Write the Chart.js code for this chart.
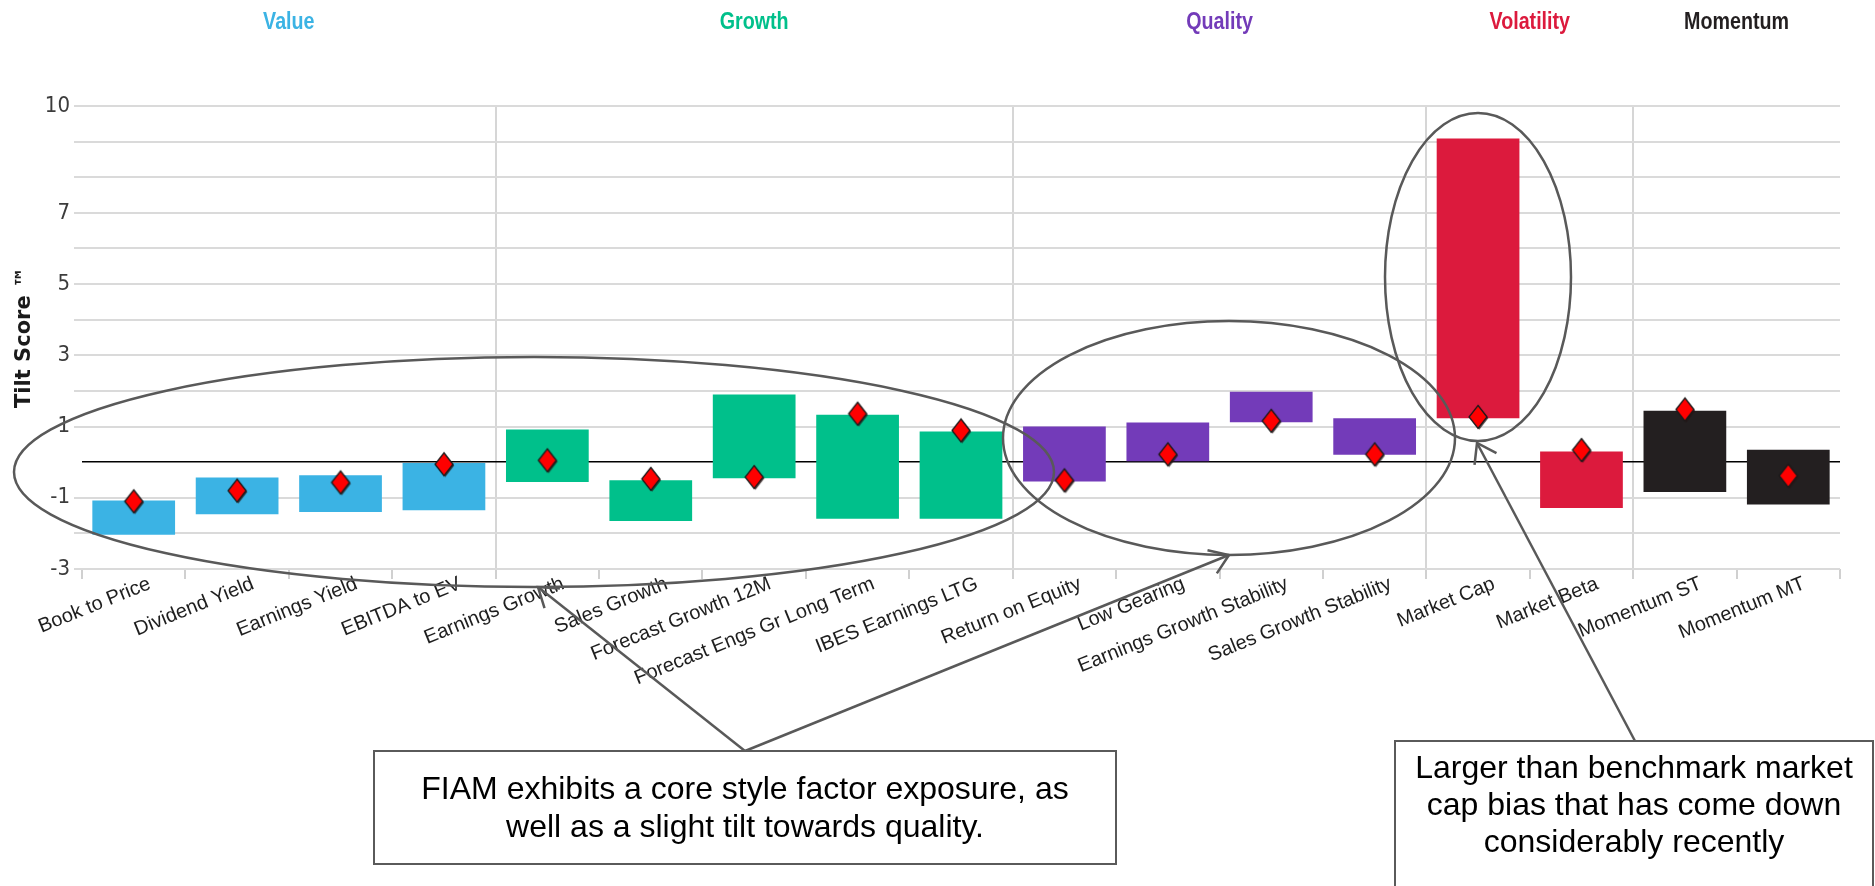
<!DOCTYPE html>
<html>
<head>
<meta charset="utf-8">
<title>Style tilt scores</title>
<script src="https://cdn.jsdelivr.net/npm/chart.js@4.4.1/dist/chart.umd.min.js"></script>
<style>
  html, body { margin: 0; padding: 0; background: #ffffff; }
  #wrap { width: 1875px; height: 886px; position: relative; }
  canvas { display: block; }
</style>
</head>
<body>
<div id="wrap"><canvas id="chart" width="1875" height="886"></canvas></div>
<script>
// ---- data ----
const factors = [
  'Book to Price', 'Dividend Yield', 'Earnings Yield', 'EBITDA to EV',
  'Earnings Growth', 'Sales Growth', 'Forecast Growth 12M', 'Forecast Engs Gr Long Term', 'IBES Earnings LTG',
  'Return on Equity', 'Low Gearing', 'Earnings Growth Stability', 'Sales Growth Stability',
  'Market Cap', 'Market Beta',
  'Momentum ST', 'Momentum MT'
];
const groupNames  = ['Value', 'Growth', 'Quality', 'Volatility', 'Momentum'];
const groupSizes  = [4, 5, 4, 2, 2];
const groupColors = ['#3bb3e4', '#00c08b', '#733bb9', '#dc1a3d', '#231f20'];

// historical range of each tilt score (low / high) and the current score
const rangeLow  = [-2.04, -1.46, -1.40, -1.35, -0.56, -1.65, -0.45, -1.59, -1.59, -0.54, 0.00, 1.12, 0.21, 1.23, -1.29, -0.84, -1.19];
const rangeHigh = [-1.08, -0.43, -0.37,  0.00,  0.92, -0.51,  1.90,  1.33,  0.86,  1.00, 1.11, 1.98, 1.23, 9.09,  0.30,  1.44,  0.35];
const tiltScore = [-1.10, -0.80, -0.57, -0.06,  0.05, -0.47, -0.42,  1.36,  0.89, -0.51, 0.22, 1.16, 0.22, 1.27,  0.34,  1.48, -0.38];

const yTickLabels = [10, 7, 5, 3, 1, -1, -3];

const noteLeft  = ['FIAM exhibits a core style factor exposure, as', 'well as a slight tilt towards quality.'];
const noteRight = ['Larger than benchmark market', 'cap bias that has come down', 'considerably recently'];

// ---- helpers ----
function hasFont(name) {
  const g = document.createElement('canvas').getContext('2d');
  const t = 'abcdefghijklmnopqrstuvwxyz MWQ 0123456789';
  g.font = '40px monospace';
  const w0 = g.measureText(t).width;
  g.font = '40px "' + name + '", monospace';
  return g.measureText(t).width !== w0;
}
const NARROW = hasFont('Liberation Sans Narrow');

// group of each factor, and index boundaries between groups
const groupOf = [];
groupSizes.forEach((n, gi) => { for (let k = 0; k < n; k++) groupOf.push(gi); });
const boundaries = [];
groupSizes.reduce((acc, n) => { acc += n; boundaries.push(acc); return acc; }, 0);
boundaries.pop();

// diamond marker for the current score
function makeDiamond() {
  const w = 24, h = 28, hw = 9, hh = 11.5;
  const c = document.createElement('canvas');
  c.width = w; c.height = h;
  const g = c.getContext('2d');
  const cx = w / 2, cy = h / 2;
  const path = (dx, dy) => {
    g.beginPath();
    g.moveTo(cx + dx, cy - hh + dy);
    g.lineTo(cx + hw + dx, cy + dy);
    g.lineTo(cx + dx, cy + hh + dy);
    g.lineTo(cx - hw + dx, cy + dy);
    g.closePath();
  };
  path(1.3, 1.3);
  g.fillStyle = 'rgba(40,20,20,0.75)';
  g.fill();
  path(0, 0);
  g.fillStyle = '#ff0000';
  g.fill();
  g.lineWidth = 1.3;
  g.strokeStyle = '#1a1a1a';
  g.stroke();
  return c;
}
const diamond = makeDiamond();

function drawNarrowText(ctx, text, x, y, size, weight, color) {
  ctx.save();
  ctx.fillStyle = color;
  ctx.textAlign = 'center';
  ctx.textBaseline = 'middle';
  if (NARROW) {
    ctx.font = weight + ' ' + size + 'px "Liberation Sans Narrow"';
    ctx.fillText(text, x, y);
  } else {
    ctx.font = weight + ' ' + size + 'px "Liberation Sans", Arial, sans-serif';
    ctx.translate(x, y);
    ctx.scale(0.82, 1);
    ctx.fillText(text, 0, 0);
  }
  ctx.restore();
}

function arrow(ctx, x0, y0, x1, y1) {
  ctx.beginPath();
  ctx.moveTo(x0, y0);
  ctx.lineTo(x1, y1);
  ctx.stroke();
  const a = Math.atan2(y0 - y1, x0 - x1), L = 22, h = 0.6;
  ctx.beginPath();
  ctx.moveTo(x1 + L * Math.cos(a + h), y1 + L * Math.sin(a + h));
  ctx.lineTo(x1, y1);
  ctx.lineTo(x1 + L * Math.cos(a - h), y1 + L * Math.sin(a - h));
  ctx.stroke();
}

function noteBox(ctx, x, y, w, h, lines, cx, firstBaseline, lineGap) {
  ctx.save();
  ctx.fillStyle = '#ffffff';
  ctx.fillRect(x, y, w, h);
  ctx.lineWidth = 2;
  ctx.strokeStyle = '#5a5a5a';
  ctx.strokeRect(x, y, w, h);
  ctx.fillStyle = '#000000';
  ctx.font = '32px "Liberation Sans", Arial, sans-serif';
  ctx.textAlign = 'center';
  ctx.textBaseline = 'alphabetic';
  lines.forEach((t, i) => ctx.fillText(t, cx, firstBaseline + i * lineGap));
  ctx.restore();
}

// group headings above the plot and the call-out annotations
const decorations = {
  id: 'decorations',
  afterDraw(chart) {
    const ctx = chart.ctx;
    const xs = chart.scales.x;
    let start = 0;
    groupNames.forEach((name, gi) => {
      const end = start + groupSizes[gi] - 1;
      const cx = (xs.getPixelForValue(start) + xs.getPixelForValue(end)) / 2;
      drawNarrowText(ctx, name, cx, 22, 24, 'bold', groupColors[gi]);
      start = end + 1;
    });

    ctx.save();
    ctx.strokeStyle = '#595959';
    ctx.lineWidth = 2.5;
    // circled groups
    [[534, 472, 520, 115], [1229, 438, 226, 117], [1478, 277, 93, 164]].forEach(([ex, ey, rx, ry]) => {
      ctx.beginPath();
      ctx.ellipse(ex, ey, rx, ry, 0, 0, Math.PI * 2);
      ctx.stroke();
    });
    // pointers
    arrow(ctx, 745, 751, 538, 587);
    arrow(ctx, 745, 751, 1229, 555);
    arrow(ctx, 1635, 741, 1477, 443);
    ctx.restore();

    noteBox(ctx, 374, 751, 742, 113, noteLeft, 745, 799, 38);
    noteBox(ctx, 1395, 741, 478, 160, noteRight, 1634, 778, 37);
  }
};

new Chart(document.getElementById('chart'), {
  type: 'bar',
  data: {
    labels: factors,
    datasets: [
      {
        type: 'line',
        label: 'Current tilt score',
        data: tiltScore,
        showLine: false,
        pointStyle: diamond,
        pointRadius: 11,
        pointHoverRadius: 11,
        order: 0
      },
      {
        type: 'bar',
        label: 'Range',
        data: rangeLow.map((lo, i) => [lo, rangeHigh[i]]),
        backgroundColor: groupOf.map(g => groupColors[g]),
        borderWidth: 0,
        barPercentage: 0.8,
        categoryPercentage: 1.0,
        order: 1
      }
    ]
  },
  options: {
    responsive: false,
    animation: false,
    devicePixelRatio: 1,
    layout: { padding: { left: 0, top: 106, right: 35, bottom: 0 } },
    plugins: {
      legend: { display: false },
      tooltip: { enabled: false }
    },
    scales: {
      x: {
        grid: {
          offset: true,
          color: c => boundaries.includes(c.index) ? '#d6d6d6' : 'rgba(0,0,0,0)',
          lineWidth: 2,
          tickColor: '#d0d0d0',
          tickLength: 10
        },
        border: { display: false },
        ticks: {
          autoSkip: false,
          minRotation: 22,
          maxRotation: 22,
          labelOffset: 16,
          padding: -7,
          color: '#1e1e1e',
          font: { family: '"Liberation Sans", Arial, sans-serif', size: 20 }
        },
        afterFit: s => { s.height = 886 - 569; }
      },
      y: {
        min: -3,
        max: 10,
        ticks: {
          stepSize: 1,
          padding: 4,
          color: '#3c3c3c',
          font: NARROW
            ? { family: '"Liberation Sans Narrow"', size: 25 }
            : { family: '"DejaVu Sans Condensed", "DejaVu Sans", sans-serif', size: 22 },
          callback: v => yTickLabels.includes(v) ? String(v) : ''
        },
        grid: {
          color: c => (c.tick && c.tick.value === 0) ? '#000000' : '#dadada',
          lineWidth: c => (c.tick && c.tick.value === 0) ? 1.6 : 2,
          tickColor: c => (c.tick && c.tick.value === 0) ? 'rgba(0,0,0,0)' : '#dadada',
          tickLength: 8
        },
        border: { display: false },
        title: {
          display: true,
          text: 'Tilt Score ™',
          color: '#1a1a1a',
          font: { family: '"DejaVu Sans", Verdana, sans-serif', size: 21, weight: 'bold' },
          padding: { top: 12, bottom: 0 }
        },
        afterFit: s => { s.width = 82; }
      }
    }
  },
  plugins: [decorations]
});
</script>
</body>
</html>
